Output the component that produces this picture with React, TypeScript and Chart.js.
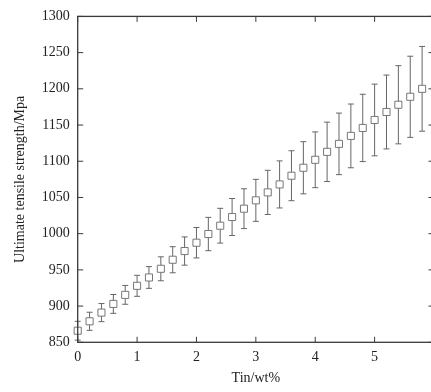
import { useEffect, useRef } from "react";
import { Chart, registerables } from "chart.js";

Chart.register(...registerables);

// Tin content (wt%) of each sample
const tinContent = [
  0, 0.2, 0.4, 0.6, 0.8, 1.0, 1.2, 1.4, 1.6, 1.8,
  2.0, 2.2, 2.4, 2.6, 2.8, 3.0, 3.2, 3.4, 3.6, 3.8,
  4.0, 4.2, 4.4, 4.6, 4.8, 5.0, 5.2, 5.4, 5.6, 5.8,
];

// Mean ultimate tensile strength (MPa)
const strength = [
  866, 879, 891, 903, 915.5, 928, 939.5, 951.5, 964, 976,
  987.5, 999.5, 1011, 1023, 1034.5, 1046, 1057, 1068, 1080, 1091,
  1102, 1113, 1124, 1135, 1146, 1157, 1168, 1178, 1189, 1200,
];

// Half-width of the error bar (MPa)
const strengthError = [
  13, 12.5, 12.5, 13, 13, 14.5, 15, 16.5, 18, 19.5,
  21, 23, 24, 25.5, 27.5, 29, 30.5, 32.5, 34.5, 36,
  38.5, 41, 42.5, 44, 46.5, 49.5, 51, 54, 56, 58.5,
];

const xLabels = [0, 1, 2, 3, 4, 5];
const xRange = [0, 6];
const yRange = [850, 1300];
const yStep = 50;

const FONT = '"Liberation Serif", "Times New Roman", serif';
const AXIS_COLOR = "#3a3a3a";
const TEXT_COLOR = "#222";

const errorBars = {
  id: "errorBars",
  beforeDatasetsDraw(chart: any) {
    const { ctx, scales } = chart;
    const x = scales.x;
    const y = scales.y;
    ctx.save();
    ctx.strokeStyle = "#666";
    ctx.lineWidth = 1;
    tinContent.forEach((t, i) => {
      const px = x.getPixelForValue(t);
      const hi = y.getPixelForValue(strength[i] + strengthError[i]);
      const lo = y.getPixelForValue(strength[i] - strengthError[i]);
      ctx.beginPath();
      ctx.moveTo(px, hi);
      ctx.lineTo(px, lo);
      ctx.moveTo(px - 3, hi);
      ctx.lineTo(px + 3, hi);
      ctx.moveTo(px - 3, lo);
      ctx.lineTo(px + 3, lo);
      ctx.stroke();
    });
    ctx.restore();
  },
};

// Border box with inward tick marks on all four sides
const frame = {
  id: "frame",
  afterDraw(chart: any) {
    const { ctx, chartArea, scales } = chart;
    const { left, right, top, bottom } = chartArea;
    const len = 5.5;
    ctx.save();
    ctx.strokeStyle = AXIS_COLOR;
    ctx.lineWidth = 1.3;
    ctx.strokeRect(left, top, right - left, bottom - top);
    ctx.lineWidth = 1;
    ctx.beginPath();
    scales.x.ticks.forEach((t: any) => {
      const px = scales.x.getPixelForValue(t.value);
      ctx.moveTo(px, bottom);
      ctx.lineTo(px, bottom - len);
      ctx.moveTo(px, top);
      ctx.lineTo(px, top + len);
    });
    scales.y.ticks.forEach((t: any) => {
      const py = scales.y.getPixelForValue(t.value);
      ctx.moveTo(left, py);
      ctx.lineTo(left + len, py);
      ctx.moveTo(right, py);
      ctx.lineTo(right - len, py);
    });
    ctx.stroke();
    ctx.restore();
  },
};

export default function App() {
  const canvasRef = useRef<HTMLCanvasElement | null>(null);

  useEffect(() => {
    const canvas = canvasRef.current;
    if (!canvas) return;
    const chart = new Chart(canvas, {
      type: "scatter",
      data: {
        datasets: [
          {
            label: "UTS",
            data: tinContent.map((t, i) => ({ x: t, y: strength[i] })),
            pointStyle: "rect",
            pointRadius: 5,
            pointBorderWidth: 1,
            pointBorderColor: "#777",
            pointBackgroundColor: "#fff",
            showLine: false,
            clip: false,
          },
        ],
      },
      options: {
        responsive: false,
        animation: false,
        devicePixelRatio: 1,
        layout: { padding: { left: 0, top: 13.3, right: 4.7, bottom: 0 } },
        plugins: {
          legend: { display: false },
          tooltip: { enabled: false },
        },
        scales: {
          x: {
            type: "linear",
            min: xRange[0],
            max: xRange[1],
            grid: { display: false, drawTicks: false },
            border: { display: false },
            afterBuildTicks: (s: any) => {
              s.ticks = xLabels.map((v) => ({ value: v }));
            },
            afterFit: (s: any) => {
              s.height = 49.7;
            },
            ticks: {
              padding: 7,
              color: TEXT_COLOR,
              font: { family: FONT, size: 14 },
              maxRotation: 0,
              callback: (v: any) => String(v),
            },
            title: {
              display: true,
              text: "Tin/wt%",
              color: TEXT_COLOR,
              font: { family: FONT, size: 14 },
              padding: { top: 0, bottom: 5.6 },
            },
          },
          y: {
            type: "linear",
            min: yRange[0],
            max: yRange[1],
            grid: { display: false, drawTicks: false },
            border: { display: false },
            afterFit: (s: any) => {
              s.width = 77.7;
            },
            ticks: {
              stepSize: yStep,
              padding: 8,
              color: TEXT_COLOR,
              font: { family: FONT, size: 14 },
              callback: (v: any) => String(v),
            },
            title: {
              display: true,
              text: "Ultimate tensile strength/Mpa",
              color: TEXT_COLOR,
              font: { family: FONT, size: 14 },
              padding: { top: 11.5, bottom: 0 },
            },
          },
        },
      },
      plugins: [errorBars, frame],
    });
    return () => chart.destroy();
  }, []);

  return (
    <div
      style={{
        position: "absolute",
        left: 0,
        top: 0,
        width: 431,
        height: 392,
        overflow: "hidden",
        background: "#fff",
      }}
    >
      <canvas
        ref={canvasRef}
        width={440}
        height={392}
        style={{ width: 440, height: 392, display: "block" }}
      />
    </div>
  );
}
